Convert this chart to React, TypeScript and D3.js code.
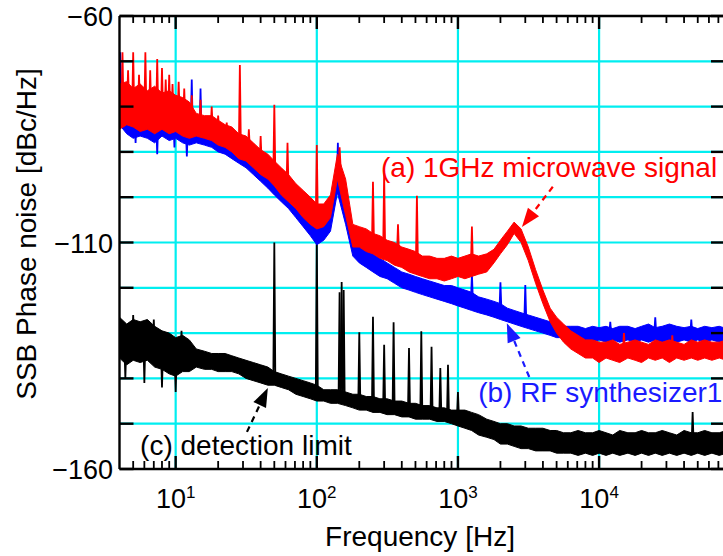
import React from "react";
import * as d3 from "d3";

const W = 723;
const H = 556;
const X0 = 119.5, X1 = 725, Y0 = 16, Y1 = 469;

// frequency bins (R20 preferred numbers per decade)
const r20 = [1, 1.12, 1.25, 1.4, 1.6, 1.8, 2, 2.24, 2.5, 2.8, 3.15, 3.55, 4, 4.5, 5, 5.6, 6.3, 7.1, 8, 9];
const decades = [1, 10, 100, 1000, 10000];
const freqs = decades
  .flatMap((d) => r20.map((r) => +(r * d).toPrecision(3)))
  .filter((f) => f >= 4 && f <= 80000);

// (a) 1GHz microwave signal, upper / lower edge of noise band [dBc/Hz]
const redHi = [
  -75, -74.5, -76, -75, -76.5, -75.5, -77, -76.5, -77.5, -78,
  -79, -81.5, -82, -82, -83, -84, -84.5, -86, -86.5, -88,
  -89.5, -90.5, -92, -93.5, -95, -97, -98.5, -100, -101.5, -101.5,
  -99.5, -90.5, -96, -106, -106.5, -107, -108, -108.5, -109.5, -110,
  -111, -111.5, -112, -113, -113, -113.5, -113.5, -113, -113.5, -113,
  -112.5, -113, -112.5, -111.5, -109.5, -107.5, -105.5, -107, -111, -116,
  -120.5, -124.5, -126.5, -128, -129.5, -130.5, -131.5, -131.5, -132, -132,
  -131.5, -132.5, -132, -131.5, -132, -132.5, -131.5, -132, -131.5, -132,
  -132.5, -131.5, -132, -131.5, -132, -132, -131.5,
];
const redLo = [
  -85, -84, -84.5, -85.5, -85, -86, -85, -86, -85.5, -86.5,
  -87, -86.5, -87, -87.5, -88.5, -89, -90, -91.5, -92, -93.5,
  -95, -96, -97.5, -99.5, -101, -102.5, -104.5, -106, -107, -106.5,
  -104.5, -96, -104, -111, -111, -112, -112.5, -113.5, -114, -115,
  -115.5, -116.5, -117, -117.5, -118, -118, -118.5, -118, -117.5, -118,
  -117.5, -117, -116.5, -114.5, -112.5, -110.5, -108, -110, -114, -119,
  -123.5, -127.5, -130, -132, -133.5, -134.5, -135.5, -135.5, -136.5, -135.5,
  -136, -136.5, -135.5, -136, -136.5, -135.5, -136, -135.5, -136.5, -135.5,
  -136, -135.5, -136, -135.5, -136, -135.5, -136,
];
const redSpikes = [
  [4.2, -68], [4.6, -72], [5, -68], [5.5, -73], [6.1, -68], [6.6, -72], [7.4, -69.5],
  [8, -71.5], [8.5, -74], [9, -73], [9.5, -75], [10.5, -74.5], [11.5, -76], [13, -77.5],
  [15, -78.5], [18, -80], [20, -82], [23, -83.5], [28.5, -70.8], [33, -85], [40, -86.5],
  [50, -79.6], [62, -88], [100, -88.5], [145, -89], [250, -96.6], [300, -94.7],
  [376, -106], [512, -99.7], [1256, -106.5], [15000, -130], [33000, -130.5],
];

// (b) RF synthesizer1
const blueHi = [
  -75, -77, -78, -77.5, -78, -79, -78, -78.5, -79, -79.5,
  -81, -83, -83.5, -84, -84.5, -85.5, -86.5, -87.5, -88.5, -90,
  -91.5, -93, -94.5, -96, -97.5, -99.5, -101.5, -103.5, -105.5, -105,
  -103, -94, -100, -109, -110.5, -111.5, -112.5, -113.5, -114.5, -115.5,
  -116.5, -117, -117.5, -118, -118.5, -119, -119.5, -119.5, -120, -120.5,
  -121, -122, -122.5, -123, -123.5, -124.5, -125, -125.5, -126, -126.5,
  -127, -127.5, -128, -128.5, -128.5, -128.5, -129, -128.5, -128.8, -128.5,
  -129, -128.5, -128.5, -129, -128.5, -128, -128.8, -128.5, -128, -128.5,
  -128.8, -128.5, -129, -128.5, -128.8, -128.5, -129,
];
const blueLo = [
  -84, -86, -87, -86.5, -87, -88, -86.5, -87.5, -87, -88,
  -88.5, -88, -88.5, -89, -90, -90.5, -91.5, -92.5, -93.5, -95,
  -96.5, -98, -99.5, -101, -102.5, -104.5, -106.5, -108.5, -110.5, -109.5,
  -107.5, -99, -106, -113, -114.5, -115.5, -116.5, -117.5, -118, -119,
  -120, -120.5, -121, -121.5, -122, -122.5, -123, -123.5, -124, -124.5,
  -125, -125.5, -126, -126.5, -127, -127.5, -128, -128.5, -129, -129.5,
  -130, -130.5, -131, -131, -131.5, -132, -131.5, -132, -131.5, -132,
  -131.5, -132, -131.5, -132, -131.5, -132, -131.5, -132, -131.5, -132,
  -131.5, -132, -131.5, -132, -131.5, -132, -131.5,
];
const blueSpikes = [
  [4.05, -68], [5.2, -88], [7.4, -90.5], [9.8, -89], [12, -91], [13, -74], [15, -76],
  [141, -88], [1256, -117], [2000, -118.8], [3000, -119.4], [12000, -127.5],
  [25000, -126.5], [45000, -127],
];

// (c) detection limit
const blackHi = [
  -126.5, -128, -127, -127.5, -127, -128.5, -129.5, -130, -131, -130.5,
  -131.5, -133.5, -134, -134.5, -134.5, -134.5, -135, -135.5, -136, -136.5,
  -137, -137.5, -138.5, -139, -139.5, -140, -140.5, -141, -141.5, -142.5,
  -142.5, -142.5, -143, -143.5, -143.5, -144, -144, -144.5, -144.5, -145,
  -145, -145.5, -145.5, -146, -146, -146.5, -146.5, -147, -147, -147,
  -147.5, -148, -149, -149.5, -150, -150, -150.5, -150.5, -151, -151,
  -151, -151.5, -151.5, -152, -152, -151.5, -152, -152, -151.5, -152,
  -152.5, -151.5, -152, -152, -151.5, -152, -152, -151.5, -152, -152.5,
  -151.5, -152, -152, -151.5, -152, -152, -151.5,
];
const blackLo = [
  -135.5, -137, -136, -136.5, -136, -137.5, -138, -139, -139.5, -138.5,
  -138.5, -137.5, -138, -138, -138.5, -138.5, -138.5, -139, -140, -140.5,
  -141, -141.5, -141.5, -142, -142.5, -143.5, -144, -144.5, -145, -145,
  -145.5, -145.5, -146, -146.5, -147, -147, -147.5, -147.5, -148, -148,
  -148.5, -148.5, -149, -149, -149, -149.5, -149.5, -150, -150.5, -151,
  -151.5, -152.5, -153, -153.5, -154.5, -154.5, -155, -155.5, -155.5, -156,
  -156, -156, -156.5, -156.5, -156.5, -157, -156.5, -157, -156.5, -157,
  -156.5, -157, -156.5, -157, -156.5, -157, -156.5, -157, -156.5, -157,
  -156.5, -157, -156.5, -157, -156.5, -157, -156.5,
];
const blackSpikes = [
  [4.4, -140], [5, -126], [6, -141], [7, -127], [8, -142], [10, -143], [11, -129.5],
  [50, -110], [100, -108], [145, -121], [150, -118.7], [155, -120.5],
  [200, -129.8], [250, -126.4], [300, -132.6], [350, -127.6], [450, -133.3], [550, -129.6],
  [650, -133], [750, -137.7], [850, -137], [1000, -143], [46000, -147.4],
];

const yTicks = [-60, -70, -80, -90, -100, -110, -120, -130, -140, -150, -160];
const yLabels = [-60, -110, -160];
const xDecades = [10, 100, 1000, 10000];
const xExp = ["1", "2", "3", "4"];

const notes = [
  { text: "(a) 1GHz microwave signal", f: 285, db: -95.5, color: "#ff0000" },
  { text: "(b) RF synthesizer1", f: 1390, db: -145.2, color: "#1a1aff" },
  { text: "(c) detection limit", f: 5.6, db: -156.9, color: "#000000" },
];
const arrows = [
  { from: [4700, -97.7], to: [2840, -106.6], color: "#ff0000" },
  { from: [3200, -139.7], to: [2220, -127.8], color: "#1a1aff" },
  { from: [32, -151.8], to: [45, -142.1], color: "#000000" },
];

const FONT = "'Liberation Sans', Arial, Helvetica, sans-serif";
const GRID = "#00eef0";

const x = d3.scaleLog().domain([4, 78000]).range([X0, X1]);
const y = d3.scaleLinear().domain([-160, -60]).range([Y1, Y0]);

function Trace({ hi, lo, spikes, color }: any) {
  const n = Math.min(freqs.length, hi.length, lo.length);
  const idx = d3.range(n);
  const band = d3
    .area<number>()
    .x((i) => x(freqs[i]))
    .y0((i) => y(lo[i]))
    .y1((i) => y(hi[i]))(idx);
  const bis = d3.bisector((f: number) => f).center;
  return (
    <g>
      <path d={band || ""} fill={color} stroke={color} strokeWidth={1} />
      {spikes.map(([f, p]: number[], k: number) => {
        const i = Math.min(bis(freqs, f), n - 1);
        const base = y((hi[i] + lo[i]) / 2);
        const px = x(f);
        return (
          <path
            key={k}
            d={`M${px - 1},${base}L${px},${y(p)}L${px + 1},${base}`}
            fill="none"
            stroke={color}
            strokeWidth={1.8}
          />
        );
      })}
    </g>
  );
}

function Arrow({ from, to, color }: any) {
  const x1 = x(from[0]), y1 = y(from[1]);
  const x2 = x(to[0]), y2 = y(to[1]);
  const a = Math.atan2(y2 - y1, x2 - x1);
  const L = 19, hw = 7;
  const bx = x2 - L * Math.cos(a), by = y2 - L * Math.sin(a);
  const nx = -Math.sin(a), ny = Math.cos(a);
  return (
    <g>
      <line x1={x1} y1={y1} x2={bx} y2={by} stroke={color} strokeWidth={2.2} strokeDasharray="6 5" />
      <polygon
        points={`${x2},${y2} ${bx + nx * hw},${by + ny * hw} ${bx - nx * hw},${by - ny * hw}`}
        fill={color}
      />
    </g>
  );
}

export default function App() {
  const minors: number[] = [];
  [1, 10, 100, 1000, 10000].forEach((d) => {
    for (let k = 2; k <= 9; k++) {
      const f = k * d;
      if (f > 4 && f < 78000) minors.push(f);
    }
  });
  return (
    <svg
      width={W}
      height={H}
      viewBox={`0 0 ${W} ${H}`}
      style={{ position: "absolute", left: 0, top: 0, background: "#fff" }}
      fontFamily={FONT}
    >
      <defs>
        <clipPath id="plot">
          <rect x={X0} y={Y0} width={X1 - X0} height={Y1 - Y0} />
        </clipPath>
      </defs>

      {/* grid */}
      {yTicks.slice(1, -1).map((v) => (
        <line key={v} x1={X0} x2={X1} y1={y(v)} y2={y(v)} stroke={GRID} strokeWidth={2.2} />
      ))}
      {xDecades.map((f) => (
        <line key={f} x1={x(f)} x2={x(f)} y1={Y0} y2={Y1} stroke={GRID} strokeWidth={2.2} />
      ))}

      {/* traces */}
      <g clipPath="url(#plot)">
        <Trace hi={blackHi} lo={blackLo} spikes={blackSpikes} color="#000000" />
        <Trace hi={blueHi} lo={blueLo} spikes={blueSpikes} color="#0000ff" />
        <Trace hi={redHi} lo={redLo} spikes={redSpikes} color="#ff0000" />
      </g>

      {/* annotations */}
      {arrows.map((a, i) => (
        <Arrow key={i} {...a} />
      ))}
      {notes.map((n) => (
        <text key={n.text} x={x(n.f)} y={y(n.db)} fill={n.color} fontSize={28}>
          {n.text}
        </text>
      ))}

      {/* frame and ticks */}
      <g stroke="#000" strokeWidth={2.4}>
        <line x1={X0} x2={X0} y1={Y0} y2={Y1} />
        <line x1={X0} x2={X1} y1={Y0} y2={Y0} />
        <line x1={X0} x2={X1} y1={Y1} y2={Y1} />
        <line x1={X1} x2={X1} y1={Y0} y2={Y1} />
        {yTicks.map((v) => (
          <g key={v}>
            <line x1={X0} x2={X0 + 14} y1={y(v)} y2={y(v)} />
            <line x1={X1} x2={X1 - 14} y1={y(v)} y2={y(v)} />
          </g>
        ))}
        {xDecades.map((f) => (
          <g key={f}>
            <line x1={x(f)} x2={x(f)} y1={Y0} y2={Y0 + 13} />
            <line x1={x(f)} x2={x(f)} y1={Y1} y2={Y1 - 13} />
          </g>
        ))}
        {minors.map((f) => (
          <g key={f} strokeWidth={1.8}>
            <line x1={x(f)} x2={x(f)} y1={Y0} y2={Y0 + 7} />
            <line x1={x(f)} x2={x(f)} y1={Y1} y2={Y1 - 8} />
          </g>
        ))}
      </g>

      {/* tick labels */}
      {yLabels.map((v) => (
        <text key={v} x={113} y={y(v) + 10} textAnchor="end" fontSize={27} fill="#000">
          {"\u2212" + Math.abs(v)}
        </text>
      ))}
      {xDecades.map((f, i) => (
        <text key={f} x={x(f)} y={508} textAnchor="middle" fontSize={27} fill="#000">
          10
          <tspan dy={-10} fontSize={17}>
            {xExp[i]}
          </tspan>
        </text>
      ))}

      {/* axis titles */}
      <text x={420} y={546} textAnchor="middle" fontSize={28} fill="#000">
        Frequency [Hz]
      </text>
      <text
        transform="translate(36,234) rotate(-90)"
        textAnchor="middle"
        fontSize={28}
        fill="#000"
      >
        SSB Phase noise [dBc/Hz]
      </text>
    </svg>
  );
}
